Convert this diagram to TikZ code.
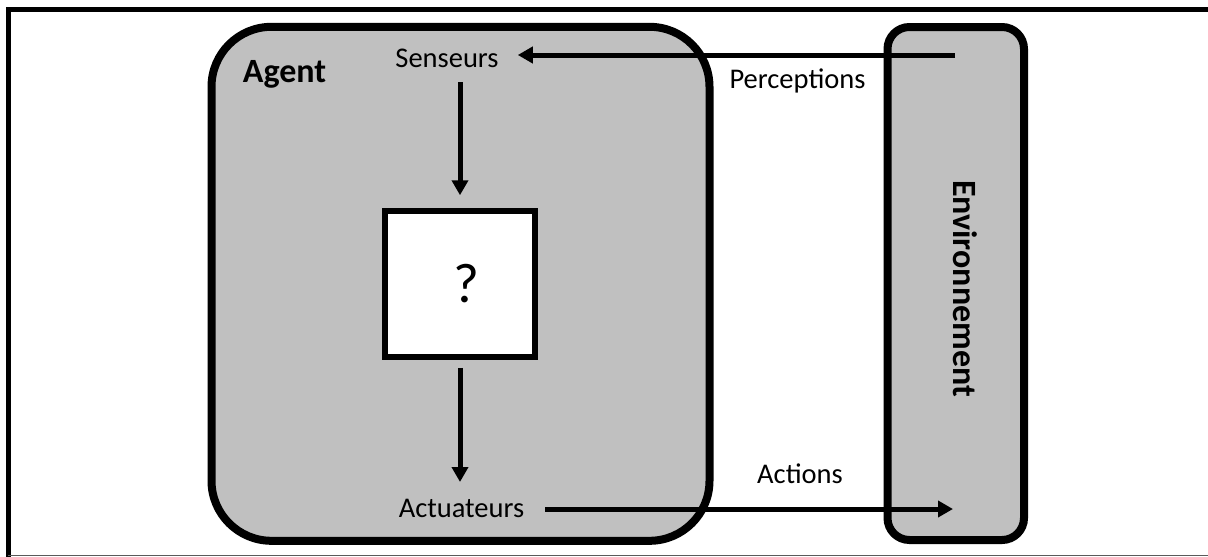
\documentclass[tikz,border=0pt]{standalone}
\usepackage{fontspec}
\setmainfont{Carlito}
\usetikzlibrary{arrows.meta}
\definecolor{boxgrey}{RGB}{192,192,192}
\definecolor{framegrey}{RGB}{90,90,90}
\begin{document}
\begin{tikzpicture}[x=1pt,y=-1pt,
  bigbox/.style={draw=black, line width=8pt, fill=boxgrey, inner sep=0pt},
  qstyle/.style={draw=black, line width=5.5pt, fill=white, inner sep=0pt},
  lbl/.style={inner sep=0pt, anchor=base, font=\fontsize{28.5}{34}\selectfont},
  blbl/.style={inner sep=0pt, anchor=base, font=\fontsize{34}{40}\selectfont\bfseries},
  arr/.style={line width=5pt, -{Triangle[length=15pt,width=16pt]}}]
\useasboundingbox (0,0) rectangle (1208,557);
\fill[white] (0,0) rectangle (1208,557);
% frame of the screenshot
\draw[line width=5pt] (1208,9.5) -- (8.5,9.5) -- (8.5,557);
\draw[framegrey, line width=1.5pt] (8,555.5) -- (1208,555.5);
% boxes
\node[bigbox, rounded corners=60pt, minimum width=498pt, minimum height=514pt] (agent) at (460.5,283.8) {};
\node[bigbox, rounded corners=22pt, minimum width=136.5pt, minimum height=513pt] (env) at (955.75,283.5) {};
\node[qstyle, minimum width=150pt, minimum height=146pt] (qbox) at (460,284) {};
\node[inner sep=0pt, font=\fontsize{56}{60}\selectfont] (qmark) at (466,284) {?};
% labels
\node[blbl] (agentlbl) at (284.5,82) {Agent};
\node[lbl] (senseurs) at (447,67) {Senseurs};
\node[lbl] (actuateurs) at (461.5,517) {Actuateurs};
\node[lbl] (perceptions) at (797.5,88) {Perceptions};
\node[lbl] (actions) at (800,483) {Actions};
\node[blbl, rotate=-90] (envlbl) at (953,288.5) {Environnement};
% free ends inside the environment
\coordinate (percstart) at (955,55);
\coordinate (actend) at (953,509);
% connectors
\draw[arr, shorten >=19pt] (percstart) -- (percstart -| senseurs.east);
\draw[arr, shorten <=21pt] (actuateurs.east |- actend) -- (actend);
\draw[arr, shorten <=15pt, shorten >=13pt] (qbox.north |- senseurs.base) -- (qbox.north);
\draw[arr, shorten <=8pt, shorten >=35pt] (qbox.south) -- (qbox.south |- actuateurs.base);
\end{tikzpicture}
\end{document}
